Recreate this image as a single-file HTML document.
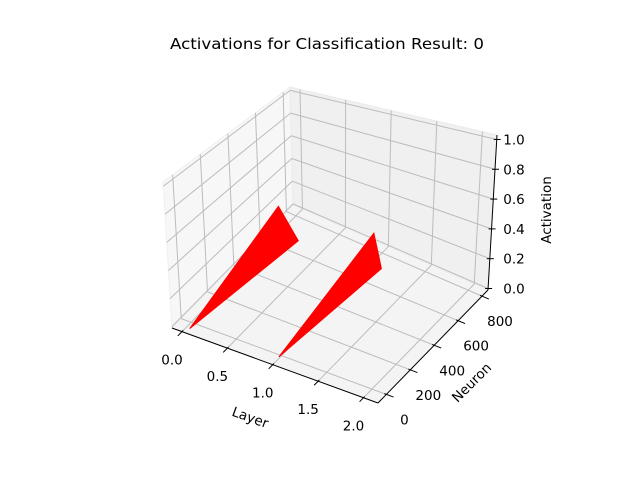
<!DOCTYPE html>
<html><head><meta charset="utf-8"><style>
html,body{margin:0;padding:0;background:#fff;}
svg{display:block;font-family:"DejaVu Sans","Liberation Sans",sans-serif;}
</style></head><body>
<svg id="chart" width="640" height="480" viewBox="0 0 640 480" xmlns="http://www.w3.org/2000/svg">
<rect width="640" height="480" fill="#fff"/>
<text x="327" y="49" text-anchor="middle" font-size="15.5" textLength="314" lengthAdjust="spacingAndGlyphs">Activations for Classification Result: 0</text>
<g id="panes"></g><g id="grid"></g><g id="marks"></g><g id="axes"></g>
</svg>
<script>
const xTicks=[0,0.5,1,1.5,2];
const xTickLabels=["0.0","0.5","1.0","1.5","2.0"];
const yTicks=[0,200,400,600,800];
const yTickLabels=["0","200","400","600","800"];
const zTicks=[0,0.2,0.4,0.6,0.8,1.0];
const zTickLabels=["0.0","0.2","0.4","0.6","0.8","1.0"];
const triLayer=[0,1];
const triX=[[0.05,0.01,0.23],[1.0,1.04,1.13]];
const triNeuron=[[-45,666,666],[-21,705,705]];
const triActivation=[[0,0.22,0],[0,0.24,0]];

const XR=[-0.11,2.16], YR=[-70,850], ZR=[-0.01,1.03];
const C={ '000':[172,328],'100':[378,403],'010':[293,205],'110':[488,290],
          '001':[163,182],'101':[369,242],'011':[290,87],'111':[497,135]};
function P(x,y,z){
  const u=(x-XR[0])/(XR[1]-XR[0]), v=(y-YR[0])/(YR[1]-YR[0]), w=(z-ZR[0])/(ZR[1]-ZR[0]);
  let r=[0,0];
  for(const i of [0,1])for(const j of [0,1])for(const k of [0,1]){
    const f=(i?u:1-u)*(j?v:1-v)*(k?w:1-w);
    const c=C[''+i+j+k]; r[0]+=f*c[0]; r[1]+=f*c[1];
  }
  return r;
}
const NS="http://www.w3.org/2000/svg";
function mk(tag,parent,attrs){const e=document.createElementNS(NS,tag);for(const k in attrs)e.setAttribute(k,attrs[k]);document.getElementById(parent).appendChild(e);return e;}
function pts(a){return a.map(p=>p.join(',')).join(' ');}
let e;
e=mk('polygon','panes',{points:pts([P(XR[0],YR[0],ZR[0]),P(XR[0],YR[1],ZR[0]),P(XR[0],YR[1],ZR[1]),P(XR[0],YR[0],ZR[1])]),fill:'#f7f7f7',stroke:'#f0f0f0'});


e=mk('polygon','panes',{points:pts([P(XR[0],YR[1],ZR[0]),P(XR[1],YR[1],ZR[0]),P(XR[1],YR[1],ZR[1]),P(XR[0],YR[1],ZR[1])]),fill:'#f0f0f0',stroke:'#ebebeb'});


e=mk('polygon','panes',{points:pts([P(XR[0],YR[0],ZR[0]),P(XR[1],YR[0],ZR[0]),P(XR[1],YR[1],ZR[0]),P(XR[0],YR[1],ZR[0])]),fill:'#f4f4f4',stroke:'#eeeeee'});


function gl(a,b,name){const l=mk('line','grid',{x1:a[0],y1:a[1],x2:b[0],y2:b[1],stroke:'#bcbcbc','stroke-width':1});

}
xTicks.forEach(x=>{gl(P(x,YR[0],ZR[0]),P(x,YR[1],ZR[0]),'floor-grid-x');gl(P(x,YR[1],ZR[0]),P(x,YR[1],ZR[1]),'back-grid-x');});
yTicks.forEach(y=>{gl(P(XR[0],y,ZR[0]),P(XR[1],y,ZR[0]),'floor-grid-y');gl(P(XR[0],y,ZR[0]),P(XR[0],y,ZR[1]),'left-grid-y');});
zTicks.forEach(z=>{gl(P(XR[0],YR[0],z),P(XR[0],YR[1],z),'left-grid-z');gl(P(XR[0],YR[1],z),P(XR[1],YR[1],z),'back-grid-z');});
triLayer.forEach((L,i)=>{
  const p=[0,1,2].map(k=>P(triX[i][k],triNeuron[i][k],triActivation[i][k]));
  const t=mk('polygon','marks',{points:pts(p),fill:'#ff0000',stroke:'#ff0000','stroke-width':1});
  
  
});
function al(a,b,name,w){const l=mk('line','axes',{x1:a[0],y1:a[1],x2:b[0],y2:b[1],stroke:'#000','stroke-width':w||1});

}
function tx(p,s,name,rot,size){const t=mk('text','axes',{x:p[0],y:p[1],'text-anchor':'middle','dominant-baseline':'central','font-size':size||13.5});
t.textContent=s;


if(rot)t.setAttribute('transform','rotate('+rot+' '+p[0]+' '+p[1]+')');}
al(P(XR[0],YR[0],ZR[0]),P(XR[1],YR[0],ZR[0]),'x-axis-line');
al(P(XR[1],YR[0],ZR[0]),P(XR[1],YR[1],ZR[0]),'y-axis-line');
al(P(XR[1],YR[1],ZR[0]),P(XR[1],YR[1],ZR[1]),'z-axis-line');
const dy=(YR[1]-YR[0]), dx=(XR[1]-XR[0]);
xTicks.forEach((x,i)=>{al(P(x,YR[0]+0.01*dy,ZR[0]),P(x,YR[0]-0.035*dy,ZR[0]),'x-tick');
  const q=P(x,YR[0],ZR[0]);tx([q[0]-10,q[1]+29],xTickLabels[i],'x-tick-label');});
yTicks.forEach((y,i)=>{al(P(XR[1]-0.01*dx,y,ZR[0]),P(XR[1]+0.035*dx,y,ZR[0]),'y-tick');
  const q=P(XR[1],y,ZR[0]);tx([q[0]+18,q[1]+26],yTickLabels[i],'y-tick-label');});
zTicks.forEach((z,i)=>{const q=P(XR[1],YR[1],z);al([q[0]-3,q[1]],[q[0]+4,q[1]],'z-tick');
  tx([514,q[1]+1],zTickLabels[i],'z-tick-label');});
tx([250,418],'Layer','x-axis-title',20);
tx([472,383],'Neuron','y-axis-title',-45);
tx([547,210],'Activation','z-axis-title',-90);
</script>
</body></html>
